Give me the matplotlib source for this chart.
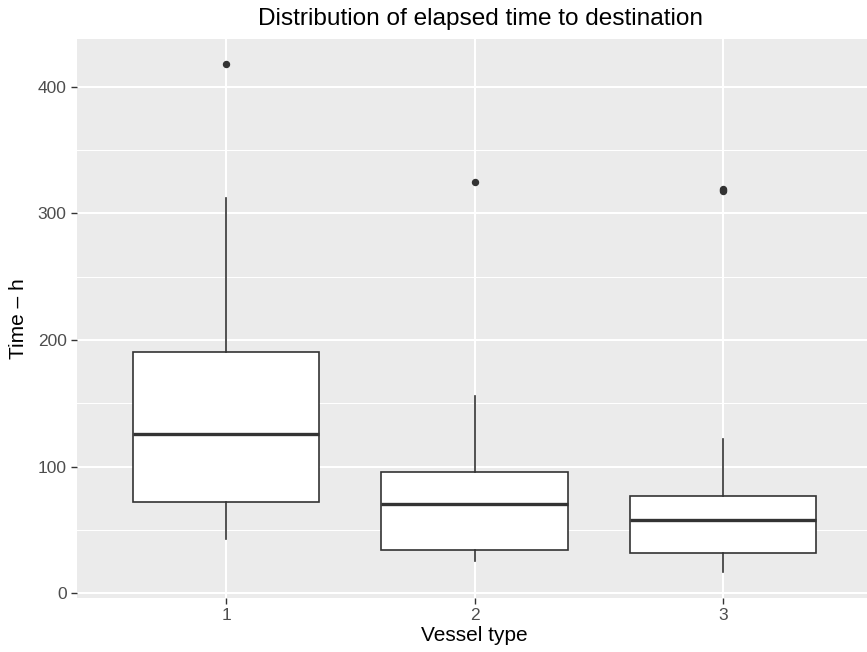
import numpy as np
import matplotlib.pyplot as plt

# valores (horas)
vessel_types = ['1', '2', '3']
whisker_low = [42.9, 25.5, 16.8]
q1 = [72.4, 34.5, 32.0]
median = [126.1, 70.6, 58.2]
q3 = [190.2, 95.4, 76.5]
whisker_high = [311.7, 155.5, 122.0]
outliers = [[417.5], [325.0], [317.3, 318.2, 319.5]]

stats = []
for i in range(len(vessel_types)):
    stats.append({'whislo': whisker_low[i], 'q1': q1[i], 'med': median[i],
                  'q3': q3[i], 'whishi': whisker_high[i], 'fliers': outliers[i]})

plt.rcParams['font.family'] = ['Liberation Sans', 'DejaVu Sans']

fig = plt.figure(figsize=(8.67, 6.52), dpi=100)
ax = fig.add_axes([77 / 867, (652 - 597.7) / 652, (872.4 - 77) / 867, (597.7 - 39) / 652])
ax.set_facecolor('#EBEBEB')

# grade estilo ggplot
for y in [50, 150, 250, 350]:
    ax.axhline(y, color='white', lw=0.75, zorder=0)
for y in [0, 100, 200, 300, 400]:
    ax.axhline(y, color='white', lw=1.5, zorder=0)
for x in [1, 2, 3]:
    ax.axvline(x, color='white', lw=1.5, zorder=0)

line = '#333333'
ax.bxp(stats, positions=[1, 2, 3], widths=0.75, showcaps=False, patch_artist=True,
       boxprops=dict(facecolor='white', edgecolor=line, linewidth=1.2),
       whiskerprops=dict(color=line, linewidth=1.2),
       medianprops=dict(color=line, linewidth=2.4),
       flierprops=dict(marker='o', markerfacecolor=line, markeredgecolor=line,
                       markersize=4.3, linestyle='none'))

ax.set_xlim(0.4, 3.6)
ax.set_ylim(-3.5, 437.6)
ax.set_xticks([1, 2, 3])
ax.set_xticklabels(vessel_types)
ax.set_yticks([0, 100, 200, 300, 400])
ax.tick_params(colors='#333333', labelcolor='#4D4D4D', labelsize=12.5, length=4, width=1)
for s in ax.spines.values():
    s.set_visible(False)

ax.set_xlabel('Vessel type', fontsize=15, labelpad=2)
ax.set_ylabel('Time – h', fontsize=15, labelpad=7)
fig.text(480 / 867, 1 - 18.5 / 652, 'Distribution of elapsed time to destination',
         ha='center', va='center', fontsize=17.6)

fig.savefig('out.png', dpi=100)
